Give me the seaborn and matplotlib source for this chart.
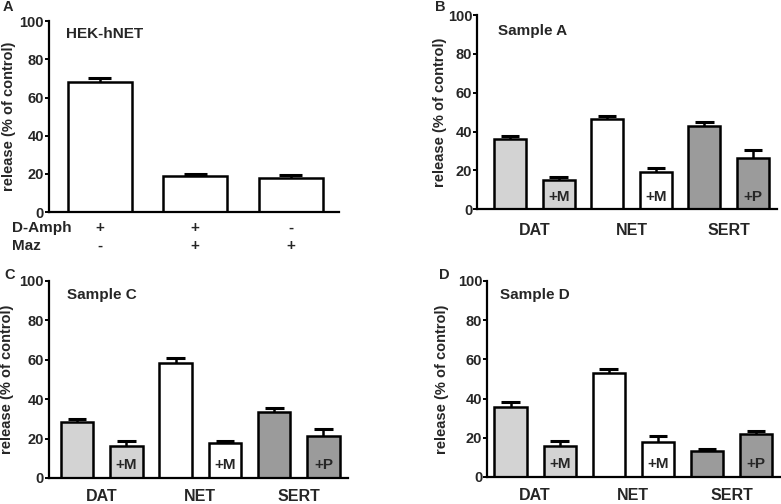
"""
Monoamine release bar panels (HEK-hNET and samples A/C/D).
"""

import matplotlib
matplotlib.use("Agg")
import matplotlib.pyplot as plt
import numpy as np
import pandas as pd
import seaborn as sns

# panel A: HEK-hNET
hek_conditions = ["amph", "amph+maz", "maz"]
hek_values = [68, 19, 18]
hek_errors = [2.0, 1.0, 1.5]
amph_marks = ["+", "+", "-"]
maz_marks = ["-", "+", "+"]

# panels B-D: per-transporter release
bar_names = ["DAT", "DAT+M", "NET", "NET+M", "SERT", "SERT+P"]
inner_labels = ["", "+M", "", "+M", "", "+P"]
groups = ["DAT", "NET", "SERT"]

sample_a_values = [36, 15, 46.5, 19, 43, 26.5]
sample_a_errors = [1.5, 1.7, 1.5, 2.0, 2.0, 4.0]
sample_c_values = [28.5, 16, 58.5, 18, 33.5, 21.5]
sample_c_errors = [1.5, 2.8, 2.5, 1.0, 2.0, 3.5]
sample_d_values = [35.5, 16, 53, 18, 13, 22]
sample_d_errors = [3.0, 2.5, 2.0, 3.0, 1.5, 1.3]

LIGHT = "#d3d3d3"
DARK = "#9b9b9b"
bar_colors = [LIGHT, LIGHT, "white", "white", DARK, DARK]

sns.set_theme(style="ticks")
plt.rcParams["font.family"] = ["Liberation Sans", "DejaVu Sans"]
plt.rcParams["font.weight"] = "bold"

fig = plt.figure(figsize=(7.81, 5.04), dpi=100)


def style_axis(ax, xlim, label_x):
    ax.set_ylim(0, 100)
    ax.set_xlim(*xlim)
    ax.set_yticks([0, 20, 40, 60, 80, 100])
    ax.spines["top"].set_visible(False)
    ax.spines["right"].set_visible(False)
    for side in ("left", "bottom"):
        ax.spines[side].set_linewidth(1.6)
        ax.spines[side].set_color("black")
    ax.tick_params(axis="y", length=3, width=1.4, labelsize=10.5, pad=0.5,
                   color="black")
    for lab in ax.get_yticklabels():
        lab.set_fontweight("bold")
    ax.set_ylabel("release (% of control)", fontsize=10.5, fontweight="bold")
    ax.yaxis.set_label_coords(label_x, 0.5)
    ax.set_xlabel("")


def draw_bars(ax, names, values, errors, colors, width):
    df = pd.DataFrame({"name": names, "value": values})
    sns.barplot(data=df, x="name", y="value", hue="name", order=names,
                hue_order=names, palette=colors, legend=False,
                edgecolor="black", linewidth=1.8, width=width, ax=ax,
                errorbar=None)
    ax.errorbar(np.arange(len(values)), values,
                yerr=[np.zeros(len(errors)), errors], fmt="none",
                ecolor="black", elinewidth=1.8, capsize=None, zorder=3)


def draw_caps(ax, values, errors, half):
    for i, (v, e) in enumerate(zip(values, errors)):
        ax.plot([i - half, i + half], [v + e, v + e], color="black",
                lw=2.2, solid_capstyle="butt", zorder=4)


def sample_panel(rect, values, errors, title, letter, xlim, title_xy,
                 letter_xy, group_pad, label_x):
    ax = fig.add_axes(rect)
    draw_bars(ax, bar_names, values, errors, bar_colors, 0.66)
    draw_caps(ax, values, errors, 0.19)
    style_axis(ax, xlim, label_x)
    ax.set_xticks([0.5, 2.5, 4.5])
    ax.set_xticklabels(groups, fontsize=11.5, fontweight="bold")
    ax.tick_params(axis="x", length=0, pad=group_pad)
    for i, lab in enumerate(inner_labels):
        if lab:
            ax.text(i, 6.5, lab, ha="center", va="center", fontsize=11,
                    fontweight="bold")
    ax.text(*title_xy, title, transform=ax.transAxes, ha="left",
            va="center", fontsize=11, fontweight="bold")
    fig.text(*letter_xy, letter, ha="left", va="center", fontsize=10.5,
             fontweight="bold")
    return ax


# panel A
ax_a = fig.add_axes([0.0627, 0.579, 0.371, 0.379])
draw_bars(ax_a, hek_conditions, hek_values, hek_errors,
          ["white"] * 3, 0.67)
draw_caps(ax_a, hek_values, hek_errors, 0.12)
style_axis(ax_a, (-0.53, 2.5), -0.115)
ax_a.set_xticks([])
ax_a.text(0.059, 0.935, "HEK-hNET", transform=ax_a.transAxes, ha="left",
          va="center", fontsize=11, fontweight="bold")
row_y = [-8.3, -17.6]
ax_a.text(-0.92, row_y[0], "D-Amph", ha="left", va="center", fontsize=11,
          fontweight="bold", clip_on=False)
ax_a.text(-0.92, row_y[1], "Maz", ha="left", va="center", fontsize=11,
          fontweight="bold", clip_on=False)
for i in range(len(hek_conditions)):
    ax_a.text(i, row_y[0], amph_marks[i], ha="center", va="center",
              fontsize=11, fontweight="bold", clip_on=False)
    ax_a.text(i, row_y[1], maz_marks[i], ha="center", va="center",
              fontsize=11, fontweight="bold", clip_on=False)
fig.text(0.004, 0.986, "A", ha="left", va="center", fontsize=10.5,
         fontweight="bold")

sample_panel([0.611, 0.585, 0.384, 0.385], sample_a_values, sample_a_errors,
             "Sample A", "B", (-0.68, 5.5), (0.07, 0.92), (0.557, 0.986),
             10, -0.1)
sample_panel([0.0627, 0.0516, 0.383, 0.391], sample_c_values,
             sample_c_errors, "Sample C", "C", (-0.57, 5.5), (0.06, 0.93),
             (0.006, 0.455), 8, -0.117)
sample_panel([0.6236, 0.0536, 0.376, 0.389], sample_d_values,
             sample_d_errors, "Sample D", "D", (-0.48, 5.5), (0.044, 0.93),
             (0.562, 0.455), 8, -0.129)

fig.savefig("out.png", dpi=100)
